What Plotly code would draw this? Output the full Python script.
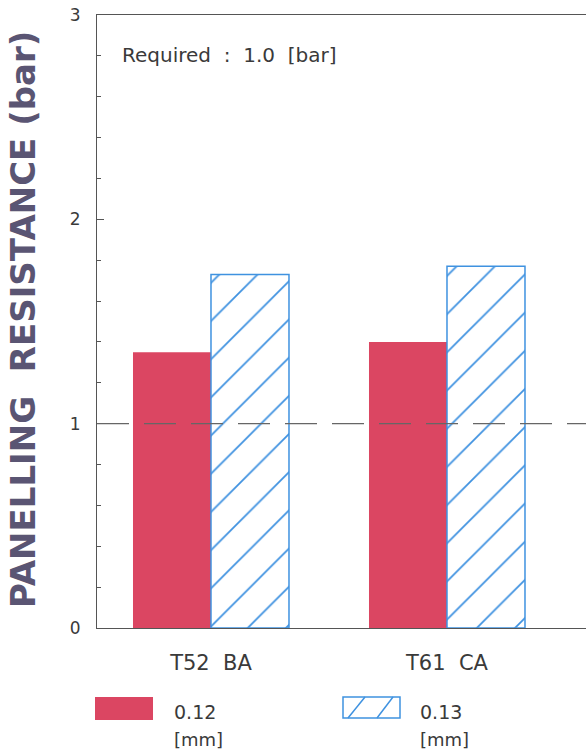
import plotly.graph_objects as go

# Data
categories = ["T52\u00a0\u00a0BA", "T61\u00a0\u00a0CA"]
thickness_labels = ["0.12", "0.13"]
resistance_012 = [1.35, 1.40]
resistance_013 = [1.73, 1.77]
required = 1.0
y_ticks = [0, 1, 2, 3]

RED = "#db4662"
BLUE = "#3f92e0"
INK = "#3a3a3a"
TITLE_INK = "#5a5573"
FONT = "DejaVu Sans"

W, H = 586, 756
PL, PR, PT, PB = 97, 586, 15, 628


def px_x(p):
    return (p - PL) / (PR - PL)


def px_y(p):
    return (PB - p) / (PB - PT)


fig = go.Figure()

fig.add_trace(go.Bar(
    x=categories, y=resistance_012, name=thickness_labels[0],
    marker=dict(color=RED, line=dict(width=0)),
    showlegend=False,
))
fig.add_trace(go.Bar(
    x=categories, y=resistance_013, name=thickness_labels[1],
    marker=dict(
        color="white",
        line=dict(color=BLUE, width=1.5),
        pattern=dict(shape="/", fgcolor=BLUE, fgopacity=1, bgcolor="white",
                     size=27, solidity=0.065),
    ),
    showlegend=False,
))

# Required level
fig.add_shape(type="line", xref="paper", yref="y", x0=0, x1=1, y0=required, y1=required,
              line=dict(color="#666666", width=1.2, dash="32px,15px"), layer="above")

annotations = [
    dict(text="PANELLING\u00a0 RESISTANCE (bar)", textangle=-90,
         xref="paper", yref="paper", x=px_x(23), y=px_y(320),
         xanchor="center", yanchor="middle", showarrow=False,
         font=dict(family=FONT, size=34, color=TITLE_INK, weight="bold")),
    dict(text=f"Required\u00a0 :\u00a0 {required:.1f}\u00a0 [bar]",
         xref="paper", yref="paper", x=px_x(120), y=px_y(55),
         xanchor="left", yanchor="middle", showarrow=False,
         font=dict(family=FONT, size=20, color=INK)),
]

# Legend block under the axis
legend_items = [
    dict(x0=95, x1=153, label_x=172),
    dict(x0=343, x1=400, label_x=418),
]
for i, item in enumerate(legend_items):
    annotations.append(dict(text=thickness_labels[i], xref="paper", yref="paper",
                            x=px_x(item["label_x"]), y=px_y(712), xanchor="left", yanchor="middle",
                            showarrow=False, font=dict(family=FONT, size=19, color=INK)))
    annotations.append(dict(text="[mm]", xref="paper", yref="paper",
                            x=px_x(item["label_x"]), y=px_y(739), xanchor="left", yanchor="middle",
                            showarrow=False, font=dict(family=FONT, size=18, color=INK)))

fig.add_shape(type="rect", xref="paper", yref="paper",
              x0=px_x(95), x1=px_x(153), y0=px_y(720), y1=px_y(697),
              fillcolor=RED, line=dict(width=0))
fig.add_shape(type="rect", xref="paper", yref="paper",
              x0=px_x(343), x1=px_x(400), y0=px_y(718), y1=px_y(697),
              fillcolor="white", line=dict(color=BLUE, width=1.5))
for bx, tx in [(348, 365), (377, 393)]:
    fig.add_shape(type="line", xref="paper", yref="paper",
                  x0=px_x(bx), x1=px_x(tx), y0=px_y(718), y1=px_y(697),
                  line=dict(color=BLUE, width=1.5))

fig.update_layout(
    width=W, height=H,
    margin=dict(l=PL, r=W - PR, t=PT, b=H - PB),
    paper_bgcolor="white", plot_bgcolor="white",
    barmode="group", bargap=0.339, bargroupgap=0,
    annotations=annotations,
    showlegend=False,
)

fig.update_xaxes(
    type="category", range=[-0.483, 1.589],
    showline=True, mirror=True, linecolor="#555555", linewidth=1.2,
    ticks="", showgrid=False, zeroline=False,
    tickfont=dict(family=FONT, size=21, color=INK),
    ticklabelstandoff=16,
)
fig.update_yaxes(
    range=[0, 3], tickvals=y_ticks, ticktext=[str(v) for v in y_ticks],
    showline=True, mirror=False, linecolor="#555555", linewidth=1.2,
    ticks="inside", ticklen=7, tickcolor="#555555", tickwidth=1,
    minor=dict(dtick=0.2, ticks="inside", ticklen=4, tickcolor="#555555", tickwidth=1, showgrid=False),
    showgrid=False, zeroline=False,
    tickfont=dict(family=FONT, size=17, color=INK),
    ticklabelstandoff=12,
)

fig.write_html("out.html")
